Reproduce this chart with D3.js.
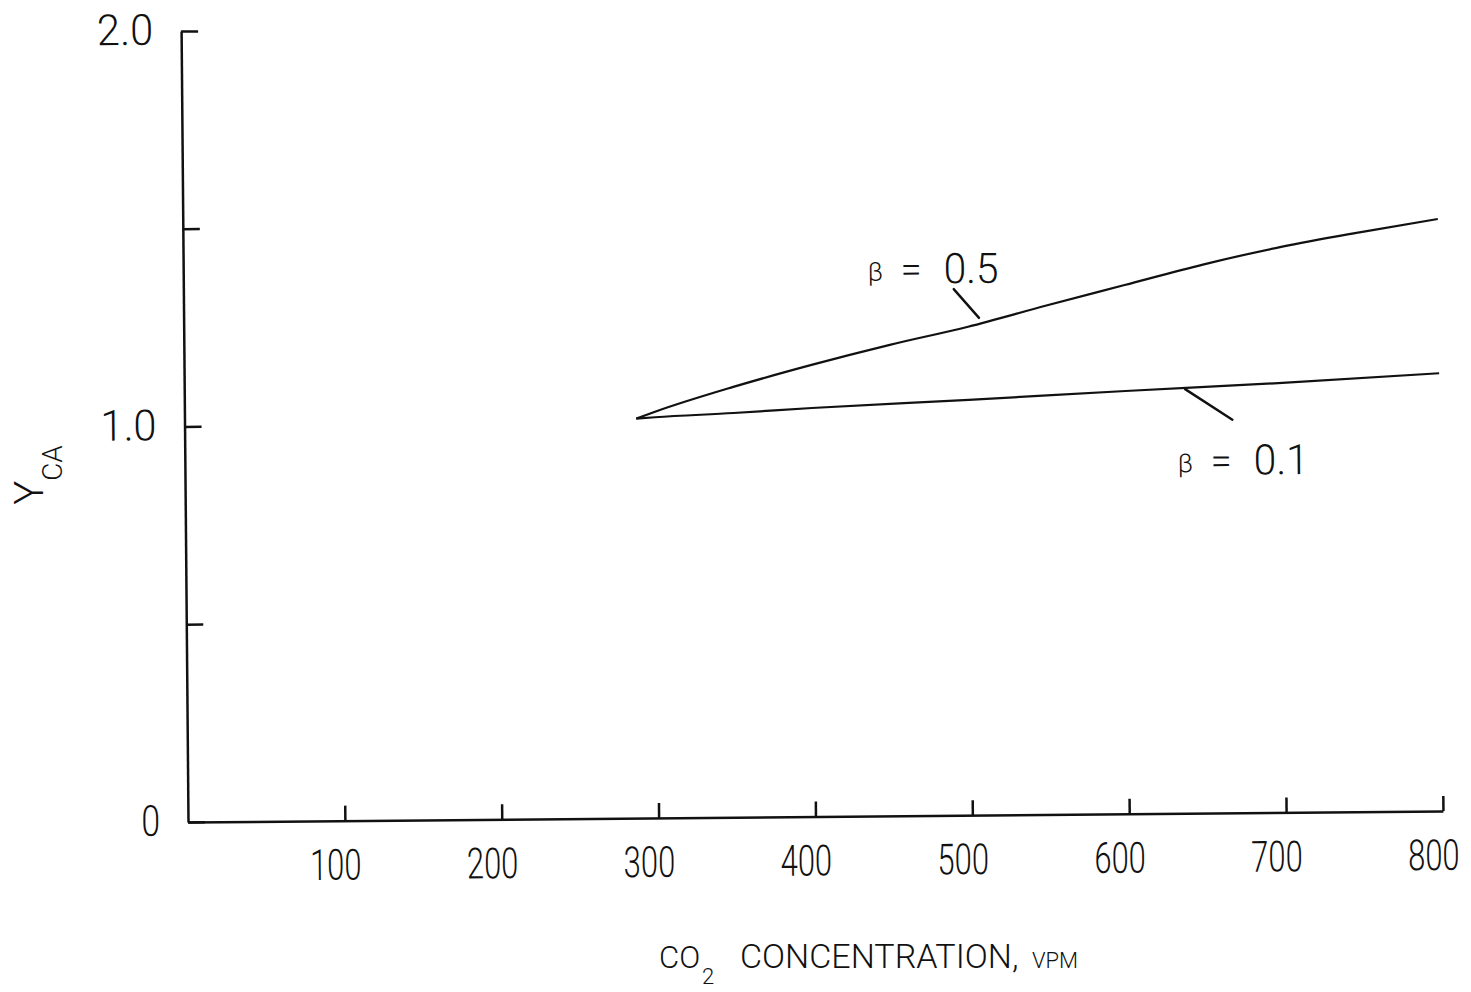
<!DOCTYPE html>
<html>
<head>
<meta charset="utf-8">
<script src="https://cdn.jsdelivr.net/npm/d3@7"></script>
<style>
  body { margin: 0; background: #fff; }
</style>
</head>
<body>
<svg id="chart" width="1471" height="992"></svg>
<script>
// axis ticks
const xTicks = [100, 200, 300, 400, 500, 600, 700, 800];
const yTicks = [0, 0.5, 1.0, 1.5, 2.0];
const yTickLabels = ['0', '', '1.0', '', '2.0'];

// beta = 0.5 curve
const co2Beta05 = [288, 300, 350, 400, 450, 500, 550, 600, 650, 700, 750, 800];
const ycaBeta05 = [1.01, 1.027, 1.088, 1.142, 1.191, 1.235, 1.287, 1.337, 1.387, 1.430, 1.465, 1.497];

// beta = 0.1 curve
const co2Beta01 = [288, 300, 350, 400, 500, 600, 700, 800];
const ycaBeta01 = [1.01, 1.013, 1.022, 1.033, 1.050, 1.069, 1.086, 1.107];

const ink = '#111';
const font = "Roboto, 'DejaVu Sans', sans-serif";
const weight = 300;
const squeeze = 0.72;  // the typewriter digits are narrow

const svg = d3.select('#chart');
svg.append('rect').attr('width', 1471).attr('height', 992).attr('fill', '#fff');

const x = d3.scaleLinear().domain([0, 800]).range([0, 1255]);
const y = d3.scaleLinear().domain([0, 2]).range([0, -791]);

// the scanned figure is tilted a little, so the plot group is too
const plot = svg.append('g')
  .attr('transform', 'translate(188,822) rotate(-0.5)');

// x axis, ticks pointing up
const gx = plot.append('g')
  .call(d3.axisBottom(x)
    .tickValues(xTicks)
    .tickSizeInner(-15)
    .tickSizeOuter(0)
    .tickFormat((d) => d));
gx.select('.domain').attr('stroke', ink).attr('stroke-width', 2.5);
gx.selectAll('.tick line').attr('stroke', ink).attr('stroke-width', 2.5);
gx.selectAll('.tick text')
  .attr('x', -10 / squeeze)
  .attr('y', 59)
  .attr('dy', 0)
  .attr('transform', `scale(${squeeze},1)`)
  .attr('fill', ink)
  .style('font-family', font)
  .style('font-weight', weight)
  .style('font-size', '43px');

// y axis, ticks pointing right
const gy = plot.append('g')
  .call(d3.axisLeft(y)
    .tickValues(yTicks)
    .tickSizeInner(-17)
    .tickSizeOuter(0)
    .tickFormat((d, i) => yTickLabels[i]));
gy.select('.domain').attr('stroke', ink).attr('stroke-width', 2.5);
gy.selectAll('.tick line').attr('stroke', ink).attr('stroke-width', 2.5);
gy.selectAll('.tick text')
  .attr('x', -28)
  .attr('y', 13)
  .attr('dy', 0)
  .attr('fill', ink)
  .style('font-family', font)
  .style('font-weight', weight)
  .style('font-size', '43px')
  .each(function(d, i) {
    const label = yTickLabels[i];
    if (label) {
      d3.select(this)
        .attr('textLength', label.length * 18.7)
        .attr('lengthAdjust', 'spacingAndGlyphs');
    }
  });

// curves
const line = d3.line()
  .x((d) => x(d[0]))
  .y((d) => y(d[1]))
  .curve(d3.curveMonotoneX);

const series = [
  { name: '0.5', pts: d3.zip(co2Beta05, ycaBeta05) },
  { name: '0.1', pts: d3.zip(co2Beta01, ycaBeta01) }
];

plot.selectAll('path.curve')
  .data(series)
  .enter().append('path')
  .attr('class', 'curve')
  .attr('d', (d) => line(d.pts))
  .attr('fill', 'none')
  .attr('stroke', ink)
  .attr('stroke-width', 2.2)
  .attr('stroke-linejoin', 'round');

// labels with leader lines, anchored on the curves
const notes = [
  { text: '0.5', at: [507, 1.242], from: [0, -6], to: [-25, -35], tx: -111, ty: -41 },
  { text: '0.1', at: [638, 1.075], from: [0, 1], to: [47, 32], tx: -8, ty: 87 }
];

notes.forEach((n) => {
  const px = x(n.at[0]);
  const py = y(n.at[1]);
  plot.append('line')
    .attr('x1', px + n.from[0]).attr('y1', py + n.from[1])
    .attr('x2', px + n.to[0]).attr('y2', py + n.to[1])
    .attr('stroke', ink)
    .attr('stroke-width', 2.4)
    .attr('stroke-linecap', 'round');

  const g = plot.append('g')
    .attr('transform', `translate(${px + n.tx},${py + n.ty})`)
    .attr('fill', ink)
    .style('font-family', font)
    .style('font-weight', weight);
  g.append('text').attr('x', 0).attr('y', -3)
    .style('font-size', '26px').text('β');
  g.append('text').attr('x', 33).attr('y', -1)
    .style('font-size', '38px').text('=');
  g.append('text').attr('x', 76).attr('y', 0)
    .style('font-size', '42px')
    .attr('textLength', 55).attr('lengthAdjust', 'spacingAndGlyphs')
    .text(n.text);
});

// y axis title
const yTitle = svg.append('text')
  .attr('transform', 'translate(43,475) rotate(-90)')
  .attr('text-anchor', 'middle')
  .attr('fill', ink)
  .style('font-family', font)
  .style('font-weight', weight);
yTitle.append('tspan').style('font-size', '40px').text('Y');
yTitle.append('tspan').attr('dy', 19).style('font-size', '28px').text('CA');

// x axis title, set piece by piece
const xTitle = svg.append('g')
  .attr('fill', ink)
  .style('font-family', font)
  .style('font-weight', weight);
xTitle.append('text').attr('x', 659).attr('y', 968)
  .style('font-size', '31px').text('CO');
xTitle.append('text').attr('x', 702).attr('y', 984)
  .style('font-size', '22px').text('2');
xTitle.append('text').attr('x', 740).attr('y', 968)
  .style('font-size', '34px').text('CONCENTRATION,');
xTitle.append('text').attr('x', 1032).attr('y', 968)
  .style('font-size', '22px').text('VPM');
</script>
</body>
</html>
